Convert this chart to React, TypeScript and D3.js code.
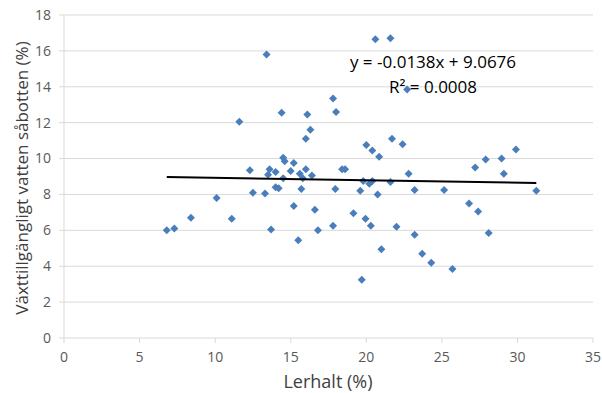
import React, { useRef, useEffect } from "react";
import * as d3 from "d3";

// Lerhalt (%) per prov
const lerhalt = [
  6.8, 7.3, 8.4, 10.1, 11.1, 11.6, 12.3, 12.5, 13.3, 13.4, 13.5, 13.6, 13.7, 14.0, 14.0, 14.2,
  14.4, 14.5, 14.6, 14.5, 15.0, 15.2, 15.2, 15.5, 15.6, 15.7, 15.8, 16.0, 16.0, 16.1, 16.3,
  16.4, 16.6, 16.8, 17.8, 17.8, 17.95, 18.0, 18.4, 18.6, 19.15, 19.6, 19.7, 19.8, 19.95, 20.0,
  20.2, 20.3, 20.4, 20.4, 20.6, 20.75, 20.85, 21.0, 21.6, 21.6, 21.7, 22.0, 22.4, 22.7, 22.8,
  23.2, 23.2, 23.7, 24.3, 25.15, 25.7, 26.8, 27.2, 27.4, 27.9, 28.1, 28.95, 29.1, 29.9, 31.25,
];

// Växttillgängligt vatten i såbotten (%)
const vatten = [
  6.0, 6.1, 6.7, 7.8, 6.65, 12.05, 9.35, 8.1, 8.05, 15.8, 9.1, 9.4, 6.05, 9.25, 8.4, 8.35,
  12.55, 10.05, 9.85, 8.9, 9.3, 9.75, 7.35, 5.45, 9.15, 8.3, 8.9, 9.4, 11.1, 12.45, 11.6,
  9.05, 7.15, 6.0, 13.35, 6.25, 8.3, 12.6, 9.4, 9.4, 6.95, 8.2, 3.25, 8.75, 6.65, 10.75,
  8.6, 6.25, 8.75, 10.45, 16.65, 8.0, 10.1, 4.95, 16.7, 8.7, 11.1, 6.2, 10.8, 13.85, 9.15,
  8.25, 5.75, 4.7, 4.2, 8.25, 3.85, 7.5, 9.5, 7.05, 9.95, 5.85, 10.0, 9.15, 10.5, 8.2,
];

const xTicks = [0, 5, 10, 15, 20, 25, 30, 35];
const yTicks = [0, 2, 4, 6, 8, 10, 12, 14, 16, 18];

// linjär trendlinje (Excel)
const slope = -0.0138;
const intercept = 9.0676;
const equationText = "y = -0.0138x + 9.0676";
const r2Text = "R² = 0.0008";

// Excel-style diamond: equal diagonals
const excelDiamond = {
  draw(context: any, size: number) {
    const r = Math.sqrt(size / 2);
    context.moveTo(0, -r);
    context.lineTo(r, 0);
    context.lineTo(0, r);
    context.lineTo(-r, 0);
    context.closePath();
  },
};

export default function App() {
  const ref = useRef<SVGSVGElement>(null);

  useEffect(() => {
    const width = 602;
    const height = 393;
    const font = "'Open Sans', 'Liberation Sans', sans-serif";

    const svg = d3.select(ref.current);
    svg.selectAll("*").remove();
    svg.attr("width", width).attr("height", height);

    const x = d3.scaleLinear().domain([0, 35]).range([64, 593]);
    const y = d3.scaleLinear().domain([0, 18]).range([338, 15]);

    // gridlines
    svg
      .append("g")
      .selectAll("line")
      .data(yTicks.filter((t) => t > 0))
      .enter()
      .append("line")
      .attr("x1", x(0))
      .attr("x2", x(35))
      .attr("y1", (d) => y(d))
      .attr("y2", (d) => y(d))
      .attr("stroke", "#d9d9d9")
      .attr("stroke-width", 1);

    // axes lines
    svg
      .append("line")
      .attr("x1", x(0))
      .attr("x2", x(0))
      .attr("y1", y(0))
      .attr("y2", y(18))
      .attr("stroke", "#d9d9d9");
    svg
      .append("line")
      .attr("x1", x(0))
      .attr("x2", x(35))
      .attr("y1", y(0))
      .attr("y2", y(0))
      .attr("stroke", "#d9d9d9");

    // tick marks
    svg
      .append("g")
      .selectAll("line")
      .data(yTicks)
      .enter()
      .append("line")
      .attr("x1", x(0) - 5)
      .attr("x2", x(0))
      .attr("y1", (d) => y(d))
      .attr("y2", (d) => y(d))
      .attr("stroke", "#d9d9d9");
    svg
      .append("g")
      .selectAll("line")
      .data(xTicks)
      .enter()
      .append("line")
      .attr("x1", (d) => x(d))
      .attr("x2", (d) => x(d))
      .attr("y1", y(0))
      .attr("y2", y(0) + 5)
      .attr("stroke", "#d9d9d9");

    // tick labels
    svg
      .append("g")
      .selectAll("text")
      .data(yTicks)
      .enter()
      .append("text")
      .attr("x", x(0) - 13)
      .attr("y", (d) => y(d))
      .attr("dy", "0.35em")
      .attr("text-anchor", "end")
      .style("font-family", font)
      .style("font-size", "14px")
      .attr("fill", "#595959")
      .text((d) => d);
    svg
      .append("g")
      .selectAll("text")
      .data(xTicks)
      .enter()
      .append("text")
      .attr("x", (d) => x(d))
      .attr("y", 362)
      .attr("text-anchor", "middle")
      .style("font-family", font)
      .style("font-size", "14px")
      .attr("fill", "#595959")
      .text((d) => d);

    // axis titles
    svg
      .append("text")
      .attr("transform", `translate(28,${178}) rotate(-90)`)
      .attr("text-anchor", "middle")
      .style("font-family", font)
      .style("font-size", "17px")
      .attr("fill", "#404040")
      .text("Växttillgängligt vatten såbotten (%)");
    svg
      .append("text")
      .attr("x", 328)
      .attr("y", 388)
      .attr("text-anchor", "middle")
      .style("font-family", font)
      .style("font-size", "18px")
      .attr("fill", "#404040")
      .text("Lerhalt (%)");

    // points
    const points = lerhalt.map((v, i) => [v, vatten[i]]);
    const diamond = d3.symbol().type(excelDiamond as any).size(32);
    svg
      .append("g")
      .selectAll("path")
      .data(points)
      .enter()
      .append("path")
      .attr("transform", (d) => `translate(${x(d[0])},${y(d[1])})`)
      .attr("d", diamond)
      .attr("fill", "#4a7ebb");

    // trend line
    const xMin = d3.min(lerhalt) as number;
    const xMax = d3.max(lerhalt) as number;
    svg
      .append("line")
      .attr("x1", x(xMin))
      .attr("x2", x(xMax))
      .attr("y1", y(slope * xMin + intercept))
      .attr("y2", y(slope * xMax + intercept))
      .attr("stroke", "#000")
      .attr("stroke-width", 2);

    // equation
    svg
      .append("text")
      .attr("x", 433)
      .attr("y", 68)
      .attr("text-anchor", "middle")
      .style("font-family", font)
      .style("font-size", "17px")
      .attr("fill", "#000")
      .text(equationText);
    svg
      .append("text")
      .attr("x", 433)
      .attr("y", 93)
      .attr("text-anchor", "middle")
      .style("font-family", font)
      .style("font-size", "17px")
      .attr("fill", "#000")
      .text(r2Text);
  }, []);

  return (
    <svg
      ref={ref}
      style={{ position: "absolute", left: 0, top: 0, background: "#fff" }}
    ></svg>
  );
}
